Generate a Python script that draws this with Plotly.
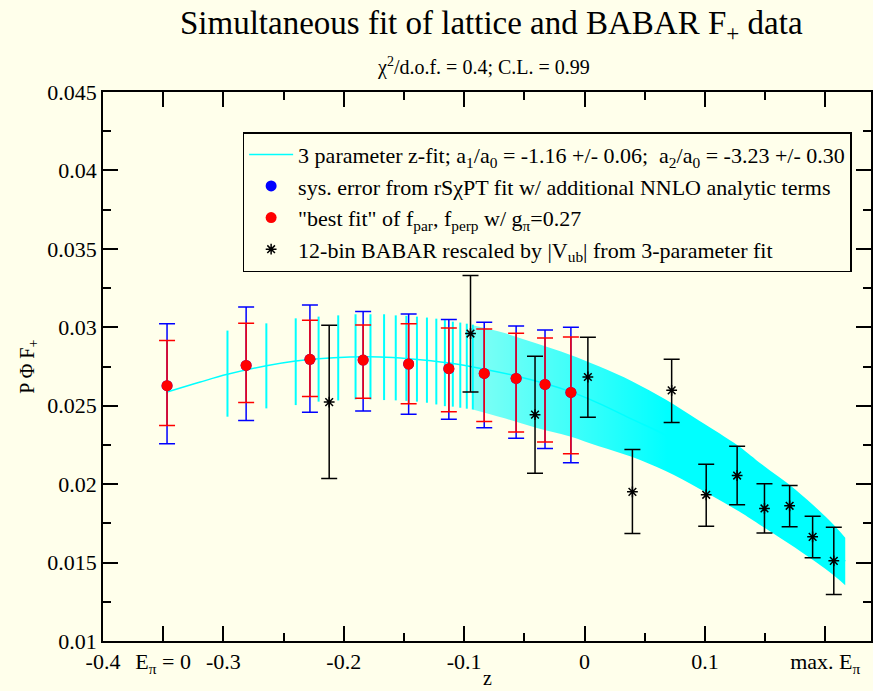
import plotly.graph_objects as go

# ---------------- data ----------------
# lattice points (red = stat, blue = stat+sys)
lat_z = [-0.3468, -0.2811, -0.2281, -0.1839, -0.1461, -0.1127, -0.0833, -0.0568, -0.0328, -0.0113]
lat_v = [0.02628, 0.02757, 0.02796, 0.02791, 0.02766, 0.02736, 0.02706, 0.02674, 0.02636, 0.02585]
red_hi = [0.02915, 0.03025, 0.03045, 0.03015, 0.03023, 0.02995, 0.02989, 0.02962, 0.02932, 0.02938]
red_lo = [0.02374, 0.02521, 0.02559, 0.02547, 0.02513, 0.02462, 0.02400, 0.02332, 0.02268, 0.02194]
blue_hi = [0.03023, 0.03129, 0.03142, 0.03100, 0.03085, 0.03049, 0.03032, 0.03008, 0.02983, 0.03000]
blue_lo = [0.02257, 0.02406, 0.02459, 0.02466, 0.02446, 0.02413, 0.02360, 0.02293, 0.02227, 0.02136]

# BABAR 12-bin points
bab_z = [-0.2121, -0.0947, -0.0411, 0.0028, 0.0398, 0.0724, 0.1011, 0.1268, 0.1495, 0.1704, 0.1895, 0.2071]
bab_v = [0.02523, 0.02960, 0.02443, 0.02683, 0.01951, 0.02598, 0.01932, 0.02055, 0.01845, 0.01862, 0.01664, 0.01511]
bab_hi = [0.03013, 0.03330, 0.02815, 0.02936, 0.02221, 0.02796, 0.02127, 0.02242, 0.02002, 0.01991, 0.01795, 0.01725]
bab_lo = [0.02036, 0.02587, 0.02070, 0.02427, 0.01685, 0.02393, 0.01732, 0.01868, 0.01689, 0.01728, 0.01530, 0.01297]

# fit band, sparse part (individual vertical lines)
band_z = [-0.2966, -0.2643, -0.2399, -0.2209, -0.2046, -0.1902, -0.1778, -0.1665, -0.1568,
          -0.1480, -0.1392, -0.1309, -0.1231, -0.1160, -0.1094, -0.1032, -0.0978, -0.0928]
band_hi = [0.02979, 0.03025, 0.03057, 0.03068, 0.03076, 0.03083, 0.03083, 0.03083, 0.03076,
           0.03073, 0.03068, 0.03062, 0.03055, 0.03046, 0.03036, 0.03030, 0.03023, 0.03017]
band_lo = [0.02430, 0.02483, 0.02504, 0.02526, 0.02534, 0.02540, 0.02540, 0.02536, 0.02534,
           0.02531, 0.02526, 0.02519, 0.02508, 0.02497, 0.02494, 0.02487, 0.02481, 0.02476]

# fit band, dense part (edges)
dense_z = [-0.0928, -0.0679, -0.0403, -0.0127, 0.0119, 0.0398, 0.0674, 0.0950, 0.1282, 0.1475, 0.1751, 0.2027, 0.2166]
dense_hi = [0.03013, 0.02966, 0.02898, 0.02827, 0.02751, 0.02655, 0.02540, 0.02406, 0.02242, 0.02125, 0.01966, 0.01774, 0.01659]
dense_lo = [0.02476, 0.02423, 0.02360, 0.02306, 0.02242, 0.02173, 0.02083, 0.01972, 0.01827, 0.01732, 0.01594, 0.01444, 0.01356]

# central fit curve
fit_z = [-0.3468, -0.3192, -0.2966, -0.2643, -0.2399, -0.2209, -0.1949, -0.1701, -0.1461, -0.1121, -0.0832, -0.0568,
         -0.0322, -0.0110, 0.0119, 0.0398, 0.0674, 0.0950, 0.1282, 0.1475, 0.1751, 0.2027, 0.2166]
fit_v = [0.02587, 0.02651, 0.02700, 0.02755, 0.02785, 0.02800, 0.02810, 0.02811, 0.02800, 0.02772, 0.02733, 0.02690,
         0.02640, 0.02588, 0.02515, 0.02413, 0.02313, 0.02189, 0.02035, 0.01929, 0.01779, 0.01609, 0.01508]

# axis ticks
x_tick_vals = [-0.4, -0.35, -0.3, -0.2, -0.1, 0.0, 0.1, 0.2]
x_tick_text = ['-0.4', 'E<sub>π</sub> = 0', '-0.3', '-0.2', '-0.1', '0', '0.1', 'max. E<sub>π</sub>']
x_minor_vals = [-0.25, -0.15, -0.05, 0.05, 0.15]
y_tick_vals = [0.01, 0.015, 0.02, 0.025, 0.03, 0.035, 0.04, 0.045]
y_tick_text = ['0.01', '0.015', '0.02', '0.025', '0.03', '0.035', '0.04', '0.045']
y_minor_vals = [0.0125, 0.0175, 0.0225, 0.0275, 0.0325, 0.0375, 0.0425]

legend_names = [
    '3 parameter z-fit; a<sub>1</sub>/a<sub>0</sub> = -1.16 +/- 0.06;  a<sub>2</sub>/a<sub>0</sub> = -3.23 +/- 0.30',
    'sys. error from rSχPT fit w/ additional NNLO analytic terms',
    '"best fit" of f<sub>par</sub>, f<sub>perp</sub> w/ g<sub>π</sub>=0.27',
    '12-bin BABAR rescaled by |V<sub>ub</sub>| from 3-parameter fit',
]

# ---------------- styling ----------------
BG = '#FFFFEB'
FONT = 'Liberation Serif, Times New Roman, serif'
CYAN = '#00FFFF'

fig = go.Figure()

# dense part of band
fig.add_trace(go.Scatter(x=dense_z, y=dense_lo, mode='lines', line=dict(width=0, color=CYAN, shape='spline'),
                         showlegend=False, hoverinfo='skip'))
fig.add_trace(go.Scatter(x=dense_z, y=dense_hi, mode='lines', line=dict(width=0, color=CYAN, shape='spline'),
                         fill='tonexty', fillcolor=CYAN,
                         fillgradient=dict(type='horizontal',
                                           colorscale=[[0, 'rgba(0,255,255,0.5)'], [1, 'rgba(0,255,255,1)']],
                                           start=dense_z[0], stop=dense_z[6]),
                         showlegend=False, hoverinfo='skip'))

# sparse part of band
band_mid = [(h + l) / 2 for h, l in zip(band_hi, band_lo)]
fig.add_trace(go.Scatter(x=band_z, y=band_mid, mode='markers',
                         marker=dict(color='rgba(0,0,0,0)', size=1),
                         error_y=dict(type='data', symmetric=False,
                                      array=[h - m for h, m in zip(band_hi, band_mid)],
                                      arrayminus=[m - l for m, l in zip(band_mid, band_lo)],
                                      width=0, thickness=2, color=CYAN),
                         showlegend=False, hoverinfo='skip'))

# fit central line
fig.add_trace(go.Scatter(x=fit_z, y=fit_v, mode='lines', line=dict(color=CYAN, width=1.5, shape='spline'),
                         name=legend_names[0]))

# blue (sys) errors
fig.add_trace(go.Scatter(x=lat_z, y=lat_v, mode='markers', marker=dict(color='#0000FF', size=11),
                         error_y=dict(type='data', symmetric=False,
                                      array=[h - v for h, v in zip(blue_hi, lat_v)],
                                      arrayminus=[v - l for v, l in zip(lat_v, blue_lo)],
                                      width=8, thickness=1.5, color='#0000FF'),
                         name=legend_names[1]))

# red (best fit)
fig.add_trace(go.Scatter(x=lat_z, y=lat_v, mode='markers', marker=dict(color='#FF0000', size=11),
                         error_y=dict(type='data', symmetric=False,
                                      array=[h - v for h, v in zip(red_hi, lat_v)],
                                      arrayminus=[v - l for v, l in zip(lat_v, red_lo)],
                                      width=8, thickness=1.5, color='#FF0000'),
                         name=legend_names[2]))

# BABAR
fig.add_trace(go.Scatter(x=bab_z, y=bab_v, mode='markers',
                         marker=dict(symbol='asterisk-open', size=9, color='black',
                                     line=dict(color='black', width=1.5)),
                         error_y=dict(type='data', symmetric=False,
                                      array=[h - v for h, v in zip(bab_hi, bab_v)],
                                      arrayminus=[v - l for v, l in zip(bab_v, bab_lo)],
                                      width=8, thickness=1.5, color='black'),
                         name=legend_names[3]))

axis_common = dict(showline=True, linecolor='black', linewidth=1.5, mirror='ticks',
                   ticks='inside', ticklen=15, tickwidth=1.5, tickcolor='black',
                   showgrid=False, zeroline=False,
                   tickfont=dict(family=FONT, size=22, color='black'))

fig.update_layout(
    width=873, height=691,
    margin=dict(l=103, r=0, t=92, b=50),
    paper_bgcolor=BG, plot_bgcolor=BG,
    font=dict(family=FONT, size=20, color='black'),
    xaxis=dict(range=[-0.4, 0.238], tickmode='array', tickvals=x_tick_vals, ticktext=x_tick_text,
               minor=dict(tickmode='array', tickvals=x_minor_vals, ticks='inside', ticklen=8,
                          tickwidth=1.5, tickcolor='black'),
               **axis_common),
    yaxis=dict(range=[0.01, 0.045], tickmode='array', tickvals=y_tick_vals, ticktext=y_tick_text,
               minor=dict(tickmode='array', tickvals=y_minor_vals, ticks='inside', ticklen=8,
                          tickwidth=1.5, tickcolor='black'),
               **axis_common),
    legend=dict(x=0.1818, y=0.927, xanchor='left', yanchor='top', bgcolor=BG,
                bordercolor='black', borderwidth=1.5, traceorder='normal', itemwidth=44,
                font=dict(family=FONT, size=22, color='black')),
    showlegend=True,
    annotations=[
        dict(text='Simultaneous fit of lattice and BABAR F<sub>+</sub> data', xref='paper', yref='paper',
             x=0.5065, y=1.122, xanchor='center', yanchor='middle', showarrow=False,
             font=dict(family=FONT, size=33, color='black')),
        dict(text='χ<sup>2</sup>/d.o.f. = 0.4; C.L. = 0.99', xref='paper', yref='paper',
             x=0.496, y=1.047, xanchor='center', yanchor='middle', showarrow=False,
             font=dict(family=FONT, size=20, color='black')),
        dict(text='z', xref='paper', yref='paper', x=0.5, y=-0.068, xanchor='center', yanchor='middle',
             showarrow=False, font=dict(family=FONT, size=20, color='black')),
        dict(text='P Φ F<sub>+</sub>', xref='paper', yref='paper', x=-0.0974, y=0.5, xanchor='center',
             yanchor='middle', textangle=-90, showarrow=False, font=dict(family=FONT, size=20, color='black')),
    ],
)

fig.write_html('out.html')
